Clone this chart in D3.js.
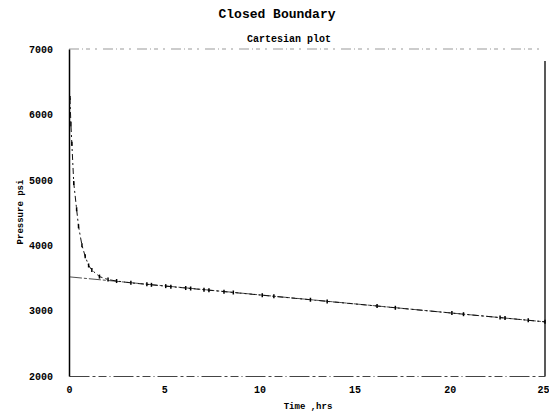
<!DOCTYPE html>
<html><head><meta charset="utf-8">
<script src="https://cdn.jsdelivr.net/npm/d3@7"></script>
<style>body{margin:0;background:#fff}svg{display:block}</style>
</head><body>
<svg id="c" width="549" height="415"></svg>
<script>
const title = "Closed Boundary";
const subtitle = "Cartesian plot";
const xLabel = "Time ,hrs";
const yLabel = "Pressure psi";
const xTicks = [0, 5, 10, 15, 20, 25];
const yTicks = [2000, 3000, 4000, 5000, 6000, 7000];
const time = [0.05, 0.1, 0.15, 0.25, 0.4, 0.5, 0.68, 0.85, 1.03, 1.2, 1.6, 2.05, 2.5, 3.25, 4.09, 4.33, 5.08, 5.35, 6.13, 6.39, 7.09, 7.35, 8.14, 8.63, 10.15, 10.76, 12.68, 13.56, 16.18, 17.14, 20.11, 20.72, 22.64, 22.9, 24.12, 25];
const pressure = [6250, 5850, 5550, 4950, 4550, 4290, 4000, 3830, 3690, 3620, 3520, 3475, 3452, 3424, 3401, 3394, 3374, 3366, 3345, 3338, 3319, 3312, 3290, 3277, 3235, 3218, 3166, 3141, 3070, 3043, 2962, 2945, 2893, 2886, 2852, 2828];
const fitTime = [0.05, 25];
const fitPressure = [3515, 2828];

const svg = d3.select("#c");
const L = 69, R = 545, T = 49, B = 376;
const x = d3.scaleLinear().domain([0, 25]).range([L, R]);
const y = d3.scaleLinear().domain([2000, 7000]).range([B, T]);
const mono = "'Liberation Mono', 'DejaVu Sans Mono', monospace";

svg.append("text").attr("x", 277).attr("y", 18).attr("text-anchor", "middle")
  .attr("font-family", mono).attr("font-weight", "bold").attr("font-size", 13).text(title);
svg.append("text").attr("x", 289).attr("y", 42).attr("text-anchor", "middle")
  .attr("font-family", mono).attr("font-weight", "bold").attr("font-size", 10).text(subtitle);

// frame
svg.append("line").attr("x1", L).attr("x2", R).attr("y1", T).attr("y2", T)
  .attr("stroke", "#999").attr("stroke-width", 1).attr("stroke-dasharray", "10,3,1,3,4,5,2,6");
svg.append("line").attr("x1", R).attr("x2", R).attr("y1", T + 12).attr("y2", B)
  .attr("stroke", "#222").attr("stroke-width", 1.5);

const xAxis = d3.axisBottom(x).tickValues(xTicks).tickSize(0).tickPadding(10).tickFormat(d3.format("d"));
const gx = svg.append("g").attr("transform", `translate(0,${B})`).call(xAxis);
gx.select(".domain").attr("stroke", "#444").attr("stroke-width", 1).attr("stroke-dasharray", "20,3,3,3,8,3,1,3");
gx.selectAll("text").attr("font-family", mono).attr("font-weight", "bold").attr("font-size", 10).attr("fill", "#000");
gx.selectAll(".tick").filter(d => d === 25).select("text").attr("text-anchor", "end").attr("dx", 4);

const yAxis = d3.axisLeft(y).tickValues(yTicks).tickSize(0).tickPadding(16).tickFormat(d3.format("d"));
const gy = svg.append("g").attr("transform", `translate(${L},0)`).call(yAxis);
gy.select(".domain").attr("stroke", "#000").attr("stroke-width", 1.5);
gy.selectAll("text").attr("font-family", mono).attr("font-weight", "bold").attr("font-size", 10).attr("fill", "#000");

svg.append("text").attr("transform", `translate(23,212) rotate(-90)`).attr("text-anchor", "middle")
  .attr("font-family", mono).attr("font-weight", "bold").attr("font-size", 9).text(yLabel);
svg.append("text").attr("x", 308).attr("y", 409).attr("text-anchor", "middle")
  .attr("font-family", mono).attr("font-weight", "bold").attr("font-size", 9).text(xLabel);

// straight-line fit
const line = d3.line().x(d => x(d[0])).y(d => y(d[1]));
svg.append("path").datum(fitTime.map((t, i) => [t, fitPressure[i]]))
  .attr("d", line).attr("fill", "none").attr("stroke", "#222").attr("stroke-width", 0.8)
  .attr("stroke-dasharray", "12,2,3,2");

// data
const pts = time.map((t, i) => [t, pressure[i]]);
svg.append("path").datum(pts).attr("d", line).attr("fill", "none")
  .attr("stroke", "#111").attr("stroke-width", 1).attr("stroke-dasharray", "6,3,2,3");
svg.selectAll(".m").data(pts).enter().append("line").attr("class", "m")
  .attr("x1", d => x(d[0])).attr("x2", d => x(d[0]))
  .attr("y1", d => y(d[1]) - 2).attr("y2", d => y(d[1]) + 2)
  .attr("stroke", "#000").attr("stroke-width", 1.5);
</script>
</body></html>
